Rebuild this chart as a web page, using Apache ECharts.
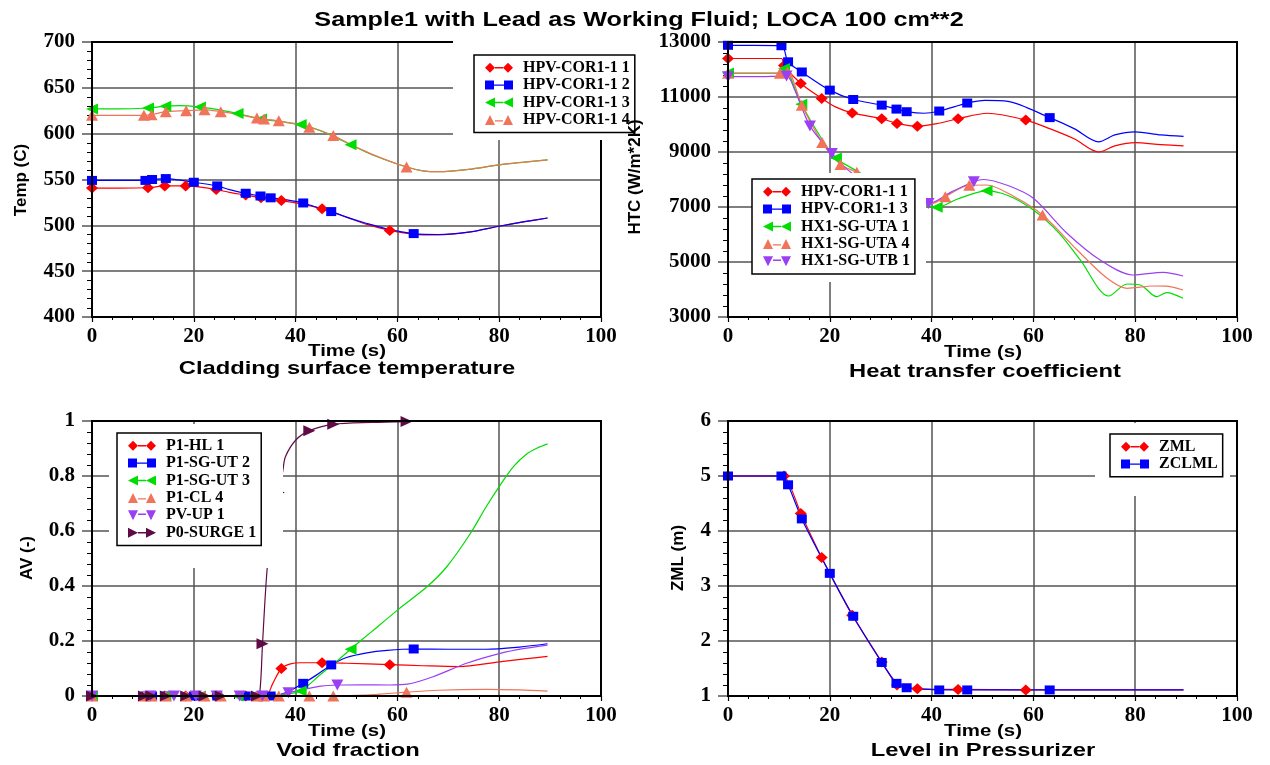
<!DOCTYPE html>
<html><head><meta charset="utf-8">
<script src="https://cdn.jsdelivr.net/npm/echarts@6/dist/echarts.min.js"></script>
<style>html,body{margin:0;padding:0;background:#fff}#c{width:1270px;height:765px}</style>
</head><body><div id="c"></div>
<script>
// ---------------- DATA ----------------
// Panel 1: Cladding surface temperature (Temp C)
const p1_t1 = [0, 5, 11, 14.3, 18.4, 21, 24.4, 27, 30.2, 33.2, 37.2, 41, 45.2, 50, 54, 58.5, 63, 68, 74, 80, 85, 89.5];
const p1_v1 = [540.7, 540.7, 541, 543, 543, 542, 539, 536, 533, 530, 527, 523.5, 518, 509, 501, 494.5, 490.5, 489.5, 492.5, 499, 504, 508];
const p1_t2 = [0, 5, 10.5, 11.8, 14.5, 17, 20, 24.6, 27, 30.2, 33.1, 35.1, 38, 41.5, 44, 47, 50, 54, 58, 63.2, 68, 74, 80, 85, 89.5];
const p1_v2 = [549, 549, 549, 550, 551, 549.5, 547, 543, 539, 535, 532, 530, 528, 524.4, 520, 515, 509, 502, 496, 491, 490, 492.5, 499, 504, 508];
const p1_t3 = [0, 5, 11, 14.4, 17, 21.2, 25, 28.6, 33.2, 37, 41, 45, 50.8, 55, 61.8, 65, 68, 74, 80, 85, 89.5];
const p1_v3 = [627, 627, 628, 630, 630.5, 629, 626, 622, 616, 613, 610, 603, 588, 577, 563.6, 559.5, 558.5, 561, 566, 569, 571.5];
const p1_t4 = [0, 5, 10.2, 11.7, 14.5, 18.5, 22.1, 25.3, 28.6, 32.4, 33.8, 36.7, 42.7, 47.4, 52, 57, 61.8, 65, 68, 74, 80, 85, 89.5];
const p1_v4 = [620, 620, 620, 620.7, 624, 625, 626, 624, 621, 617, 616, 614, 607, 598, 585, 573, 563.6, 559.5, 558.5, 561, 566, 569, 571.5];

// marker times (sampling points that carry a symbol)
const mk1 = [0, 11, 14.3, 18.4, 24.4, 30.2, 33.2, 37.2, 45.2, 58.5];
const mk2 = [0, 10.5, 11.8, 14.5, 20, 24.6, 30.2, 33.1, 35.1, 41.5, 47, 63.2];
const mk3 = [0, 11, 14.4, 21.2, 28.6, 33.2, 41, 50.8];
const mk4 = [0, 10.2, 11.7, 14.5, 18.5, 22.1, 25.3, 32.4, 33.8, 36.7, 42.7, 47.4, 61.8];

// Panel 2: Heat transfer coefficient (HTC W/m*2K)
const p2_t1 = [0, 5, 10.5, 11, 14.3, 18.4, 21, 24.4, 30.2, 33.2, 37.2, 41, 45.2, 51, 58.5, 63.2, 68, 72.8, 76, 80, 85, 89.5];
const p2_v1 = [12400, 12400, 12400, 12150, 11490, 10950, 10650, 10420, 10210, 10040, 9935, 10030, 10210, 10410, 10160, 9850, 9480, 9000, 9220, 9340, 9270, 9220];
const p2_t2 = [0, 5, 10.5, 11.8, 14.5, 20, 24.6, 30.2, 33.1, 35.1, 38.5, 41.5, 47, 50.5, 55, 63.2, 68, 72.8, 76, 80, 85, 89.5];
const p2_v2 = [12880, 12880, 12865, 12280, 11910, 11250, 10910, 10705, 10560, 10465, 10410, 10490, 10780, 10880, 10840, 10250, 9850, 9370, 9620, 9730, 9620, 9570];
const p2_t3 = [0, 5, 10.5, 11, 14.4, 18, 21.2, 25.6, 28.6, 33.2, 37, 41, 45, 50.8, 55, 60, 65, 69.2, 74.8, 78.4, 81, 84.2, 86.2, 89.4];
const p2_v3 = [11870, 11870, 11870, 12040, 10740, 9600, 8780, 8280, 7950, 7500, 7150, 6990, 7280, 7590, 7420, 6890, 6060, 5073, 3764, 4200, 4164, 3739, 3884, 3679];
const p2_t4 = [0, 5, 10.2, 11.7, 14.5, 18.5, 22.1, 25.3, 28.6, 32.4, 33.8, 36.7, 40, 42.7, 47.4, 50.8, 56, 61.8, 68.6, 74.5, 78.4, 83.6, 86, 89.4];
const p2_v4 = [11860, 11860, 11860, 11900, 10700, 9350, 8550, 8260, 7900, 7550, 7450, 7250, 7120, 7375, 7790, 7800, 7400, 6710, 5436, 4406, 4042, 4127, 4120, 3982];
const p2_t5 = [0, 5, 11.5, 13, 16.1, 20.4, 23.6, 27, 31, 35, 39.4, 44, 48.3, 50.2, 55, 60, 66.6, 73.1, 79.6, 85.5, 89.4];
const p2_v5 = [11740, 11740, 11760, 11300, 9950, 8950, 8340, 7900, 7500, 7250, 7130, 7560, 7920, 8000, 7780, 7316, 6044, 5073, 4527, 4625, 4491];
const mk5 = [0, 11.5, 16.1, 20.4, 39.4, 48.3];

// Panel 3: Void fraction (AV -)
const p3_t1 = [0, 11, 14.3, 18.4, 24.4, 30.2, 33.2, 34.4, 35.5, 37.2, 39, 41, 45.2, 50, 58.5, 65, 72, 80, 85, 89.5];
const p3_v1 = [0, 0, 0, 0, 0, 0, 0, 0.003, 0.045, 0.1, 0.117, 0.121, 0.121, 0.119, 0.114, 0.11, 0.107, 0.124, 0.135, 0.144];
const p3_t2 = [0, 10.5, 11.8, 14.5, 20, 24.6, 30.2, 33.1, 35.1, 37, 39, 41.5, 44, 47, 50, 54, 58, 63.2, 70, 77.5, 84, 89.5];
const p3_v2 = [0, 0, 0, 0, 0, 0, 0, 0, 0, 0.005, 0.02, 0.046, 0.075, 0.113, 0.14, 0.157, 0.166, 0.171, 0.17, 0.17, 0.178, 0.19];
const p3_t3 = [0, 11, 14.4, 21.2, 28.6, 33.2, 36, 38.5, 41, 45, 48, 50.8, 55, 60.2, 65.8, 69.7, 74.3, 77.5, 80.2, 82.8, 85.4, 87.5, 89.5];
const p3_v3 = [0, 0, 0, 0, 0, 0, 0.002, 0.008, 0.018, 0.08, 0.125, 0.17, 0.235, 0.315, 0.397, 0.47, 0.59, 0.69, 0.767, 0.834, 0.88, 0.902, 0.917];
const p3_t4 = [0, 10.2, 11.7, 14.5, 18.5, 22.1, 25.3, 32.4, 33.8, 36.7, 42.7, 47.4, 52, 56, 61.8, 68, 77.5, 84, 89.5];
const p3_v4 = [0, 0, 0, 0, 0, 0, 0, 0, 0, 0, 0, 0, 0.002, 0.006, 0.014, 0.021, 0.024, 0.022, 0.018];
const p3_t5 = [0, 11.5, 16.1, 20.4, 24.5, 29, 33.5, 36, 38.6, 42, 45, 48.2, 53, 58.5, 62, 67, 73.6, 80.2, 85, 89.5];
const p3_v5 = [0, 0, 0, 0, 0, 0, 0, 0.002, 0.012, 0.025, 0.036, 0.04, 0.041, 0.04, 0.043, 0.07, 0.119, 0.155, 0.173, 0.185];
const p3_t6 = [0, 10.2, 11.7, 14.5, 18.5, 22.1, 25.3, 32.4, 33, 33.5, 34.4, 35.5, 36.7, 37.5, 38, 40, 42.7, 47.4, 55, 61.8, 70, 89.5];
const p3_v6 = [0, 0, 0, 0, 0, 0, 0, 0, 0.02, 0.19, 0.46, 0.63, 0.74, 0.82, 0.87, 0.93, 0.965, 0.988, 0.995, 0.998, 1.0, 1.0];
const mk3_5 = [0, 11.5, 16.1, 20.4, 24.5, 29, 33.5, 38.6, 48.2];
const mk3_6 = [0, 10.2, 11.7, 14.5, 18.5, 22.1, 25.3, 32.4, 33.5, 36.7, 42.7, 47.4, 61.8];

// Panel 4: Level in Pressurizer (ZML m)
const p4_t1 = [0, 5, 11, 14.3, 18.4, 24.4, 30.2, 33.2, 37.2, 45.2, 58.5, 70, 89.5];
const p4_v1 = [5, 5, 5, 4.32, 3.52, 2.47, 1.62, 1.2, 1.13, 1.12, 1.11, 1.11, 1.11];
const p4_t2 = [0, 5, 10.5, 11.8, 14.5, 20, 24.6, 30.2, 33.1, 35.1, 41.5, 47, 63.2, 75, 89.5];
const p4_v2 = [5, 5, 5, 4.84, 4.22, 3.23, 2.45, 1.61, 1.23, 1.15, 1.11, 1.11, 1.11, 1.11, 1.11];

// axis ranges / ticks
const xRange = [0, 100, 20];
const y1Range = [400, 700, 50];
const y2Range = [3000, 13000, 2000];
const y3Range = [0, 1, 0.2];
const y4Range = [1, 6, 1];

// texts
const mainTitle = 'Sample1 with Lead as Working Fluid; LOCA 100 cm**2';
const subTitles = ['Cladding surface temperature', 'Heat transfer coefficient', 'Void fraction', 'Level in Pressurizer'];
const yNames = ['Temp (C)', 'HTC (W/m*2K)', 'AV (-)', 'ZML (m)'];
const xName = 'Time (s)';

// ---------------- STYLE ----------------
const COL = {red:'#ff0000', blue:'#0000ff', green:'#00dd00', salmon:'#f0735a', purple:'#9a40f2', maroon:'#5e0b46'};
const SYM = {
  diamond:{s:'diamond', z:[12,11], icon:'path://M0,5L5,0L10,5L5,10ZM18,5L23,0L28,5L23,10ZM10,4.3L18,4.3L18,5.7L10,5.7Z'},
  square:{s:'rect', z:[10,9], icon:'path://M0,0.5L9,0.5L9,9.5L0,9.5ZM19,0.5L28,0.5L28,9.5L19,9.5ZM9,4.3L19,4.3L19,5.7L9,5.7Z'},
  left:{s:'path://M0,5L10,0L10,10Z', z:[12,11], icon:'path://M0,5L10,0L10,10ZM18,5L28,0L28,10ZM10,4.3L18,4.3L18,5.7L10,5.7Z'},
  up:{s:'triangle', z:[12,11], icon:'path://M0,10L5,0L10,10ZM18,10L23,0L28,10ZM10,5.3L18,5.3L18,6.7L10,6.7Z'},
  down:{s:'path://M0,0L10,0L5,10Z', z:[12,11], icon:'path://M0,0L10,0L5,10ZM18,0L28,0L23,10ZM10,3.3L18,3.3L18,4.7L10,4.7Z'},
  right:{s:'path://M0,0L10,5L0,10Z', z:[12,11], icon:'path://M0,0L10,5L0,10ZM18,0L28,5L18,10ZM10,4.3L18,4.3L18,5.7L10,5.7Z'}
};
const GR = [
  {left:92, top:42, width:509, height:275},
  {left:728, top:42, width:509, height:275},
  {left:92, top:421, width:509, height:275},
  {left:728, top:421, width:509, height:275}
];

function line(id, name, g, t, v, marks, color, sym, smooth) {
  const ms = new Set(marks);
  const S = SYM[sym];
  return {
    type:'line', name:id + '|' + name, xAxisIndex:g, yAxisIndex:g,
    data:t.map((x, i) => [x, v[i]]),
    smooth:smooth == null ? 0.3 : smooth, symbol:S.s, showAllSymbol:true,
    symbolSize:(val) => ms.has(val[0]) ? S.z : 0,
    lineStyle:{color:color, width:1.2},
    itemStyle:{color:color, borderWidth:0},
    emphasis:{disabled:true}, animation:false, z:2
  };
}

const SERIES = [
  line('a','HPV-COR1-1 1',0,p1_t1,p1_v1,mk1,COL.red,'diamond'),
  line('a','HPV-COR1-1 2',0,p1_t2,p1_v2,mk2,COL.blue,'square'),
  line('a','HPV-COR1-1 3',0,p1_t3,p1_v3,mk3,COL.green,'left'),
  line('a','HPV-COR1-1 4',0,p1_t4,p1_v4,mk4,COL.salmon,'up'),
  line('b','HPV-COR1-1 1',1,p2_t1,p2_v1,mk1,COL.red,'diamond'),
  line('b','HPV-COR1-1 3',1,p2_t2,p2_v2,mk2,COL.blue,'square'),
  line('b','HX1-SG-UTA 1',1,p2_t3,p2_v3,mk3,COL.green,'left'),
  line('b','HX1-SG-UTA 4',1,p2_t4,p2_v4,mk4,COL.salmon,'up'),
  line('b','HX1-SG-UTB 1',1,p2_t5,p2_v5,mk5,COL.purple,'down'),
  line('c','P1-HL 1',2,p3_t1,p3_v1,mk1,COL.red,'diamond'),
  line('c','P1-SG-UT 2',2,p3_t2,p3_v2,mk2,COL.blue,'square'),
  line('c','P1-SG-UT 3',2,p3_t3,p3_v3,mk3,COL.green,'left'),
  line('c','P1-CL 4',2,p3_t4,p3_v4,mk4,COL.salmon,'up'),
  line('c','PV-UP 1',2,p3_t5,p3_v5,mk3_5,COL.purple,'down'),
  line('c','P0-SURGE 1',2,p3_t6,p3_v6,mk3_6,COL.maroon,'right'),
  line('d','ZML',3,p4_t1,p4_v1,mk1,COL.red,'diamond',0.15),
  line('d','ZCLML',3,p4_t2,p4_v2,mk2,COL.blue,'square',0.15)
];

const symOf = {};
SERIES.forEach(s => {
  const k = Object.keys(SYM).find(k => SYM[k].s === s.symbol);
  symOf[s.name] = SYM[k].icon;
});

function legend(id, left, top) {
  return {
    orient:'vertical', left:left, top:top, itemWidth:28, itemHeight:10, itemGap:0,
    padding:[4,5,4,11], backgroundColor:'#fff', borderColor:'#000', borderWidth:1.5,
    z:20, selectedMode:false, symbolKeepAspect:true,
    data:SERIES.filter(s => s.name.startsWith(id + '|')).map(s => ({name:s.name, icon:symOf[s.name]})),
    formatter:(n) => n.split('|')[1],
    textStyle:{fontFamily:'Liberation Serif', fontWeight:'bold', fontSize:16, color:'#000', lineHeight:17.4, padding:[0,0,0,5]}
  };
}

function xAx(g) {
  return {
    type:'value', gridIndex:g, min:xRange[0], max:xRange[1], interval:xRange[2],
    axisLine:{show:true, onZero:false, lineStyle:{color:'#000', width:2}},
    axisTick:{show:true, inside:false, length:5, lineStyle:{color:'#000', width:1.2}},
    minorTick:{show:true, splitNumber:5, length:3, lineStyle:{color:'#000', width:1}},
    splitLine:{show:true, lineStyle:{color:'#555', width:1.5}},
    axisLabel:{color:'#000', fontFamily:'Liberation Serif', fontWeight:'bold', fontSize:21, margin:9,
      formatter:(v) => String(v)}
  };
}
function yAx(g, r) {
  return {
    type:'value', gridIndex:g, min:r[0], max:r[1], interval:r[2],
    axisLine:{show:true, onZero:false, lineStyle:{color:'#000', width:2}},
    axisTick:{show:true, inside:false, length:10, lineStyle:{color:'#555', width:1.5}},
    minorTick:{show:true, splitNumber:5, length:5, lineStyle:{color:'#000', width:1}},
    splitLine:{show:true, lineStyle:{color:'#555', width:1.5}},
    axisLabel:{color:'#000', fontFamily:'Liberation Serif', fontWeight:'bold', fontSize:21, margin:17,
      formatter:(v) => String(Math.round(v * 1000) / 1000)}
  };
}

function txt(x, y, text, size, rot, sx, z) {
  return {
    type:'text', x:x, y:y, rotation:rot || 0, scaleX:sx || 1, z:z || 30, silent:true,
    style:{x:0, y:0, text:text, font:'bold ' + size + 'px "Liberation Sans", Arial, sans-serif',
      fill:'#000', textAlign:'center', textVerticalAlign:'middle', align:'center', verticalAlign:'middle'}
  };
}
function whiteRect(x, y, w, h) {
  return {type:'rect', z:10, silent:true, shape:{x:x, y:y, width:w, height:h}, style:{fill:'#fff', stroke:null}};
}
function border(g) {
  return {type:'rect', z:3, silent:true, shape:{x:g.left, y:g.top, width:g.width, height:g.height},
    style:{fill:null, stroke:'#000', lineWidth:2}};
}

const graphics = [
  ...GR.map(border),
  whiteRect(453, 39, 192, 101),
  whiteRect(752, 173, 174, 109),
  whiteRect(109, 424, 174, 144),
  whiteRect(1095, 423, 135, 73),
  txt(639, 20, mainTitle, 21, 0, 1.2),
  txt(347, 351, xName, 17, 0, 1.2),
  txt(983, 352, xName, 17, 0, 1.2),
  txt(347, 731, xName, 17, 0, 1.2),
  txt(983, 731, xName, 17, 0, 1.2),
  txt(347, 369, subTitles[0], 19, 0, 1.25),
  txt(985, 372, subTitles[1], 19, 0, 1.25),
  txt(348, 751, subTitles[2], 19, 0, 1.25),
  txt(983, 751, subTitles[3], 19, 0, 1.25),
  txt(21, 180, yNames[0], 17, Math.PI / 2),
  txt(635, 177, yNames[1], 17, Math.PI / 2),
  txt(27, 558, yNames[2], 17, Math.PI / 2),
  txt(678, 558, yNames[3], 17, Math.PI / 2)
];

const chart = echarts.init(document.getElementById('c'));
chart.setOption({
  animation:false,
  backgroundColor:'#fff',
  textStyle:{fontFamily:'Liberation Serif'},
  grid:GR.map(g => Object.assign({containLabel:false}, g)),
  xAxis:[xAx(0), xAx(1), xAx(2), xAx(3)],
  yAxis:[yAx(0, y1Range), yAx(1, y2Range), yAx(2, y3Range), yAx(3, y4Range)],
  legend:[legend('a', 474, 55), legend('b', 752, 179), legend('c', 117, 433), legend('d', 1110, 434)],
  graphic:{elements:graphics},
  series:SERIES
});
</script>
</body></html>
